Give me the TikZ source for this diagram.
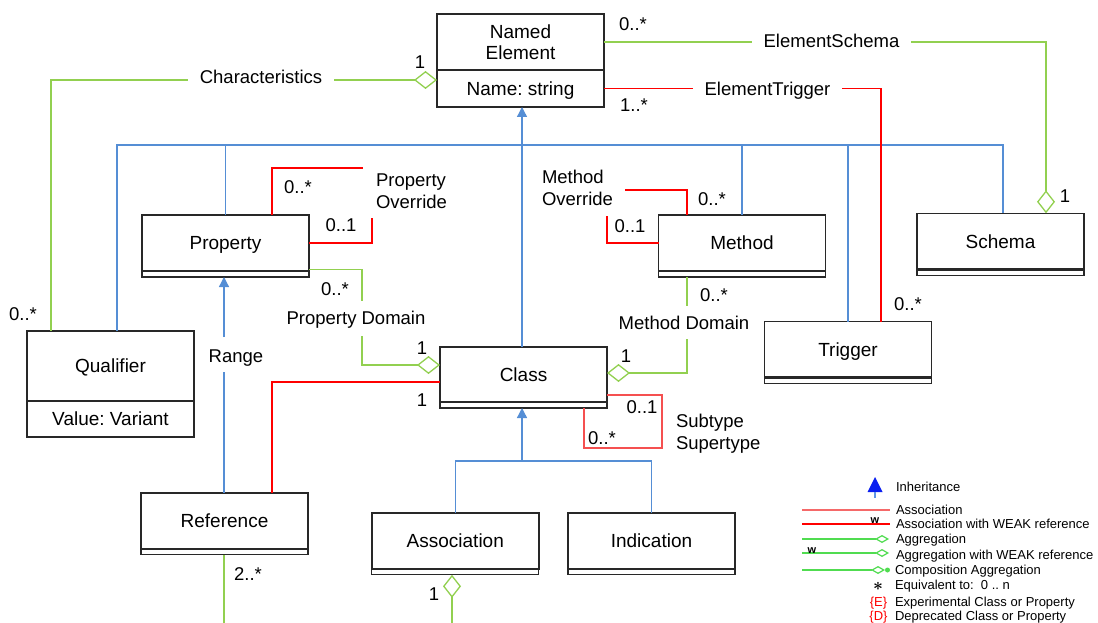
\documentclass[tikz,border=0pt]{standalone}
\usepackage{fontspec}
\setmainfont{Liberation Sans}
\usetikzlibrary{arrows.meta}
\frenchspacing

\definecolor{boxline}{RGB}{40,40,40}
\definecolor{inhblue}{RGB}{85,142,213}
\definecolor{agggreen}{RGB}{146,208,80}
\definecolor{assocred}{RGB}{255,0,0}
\definecolor{loopred}{RGB}{245,80,80}
\definecolor{legred}{RGB}{245,105,105}
\definecolor{leggreen}{RGB}{80,220,80}
\definecolor{legblue}{RGB}{10,30,240}
\definecolor{legstem}{RGB}{95,150,230}

% a class box: name compartment plus a thin empty compartment below
\newcommand{\umlclass}[4][56]{%
  \node[classbox, minimum height=#1pt] (#2) at (#3) {#4};
  \node[stripbox] (#2b) at (#2.south) {};
  \draw[divider] (#2.south west) -- (#2.south east);}

\begin{document}
\begin{tikzpicture}[x=1pt,y=-1pt,
  every node/.style={inner sep=0pt, outer sep=0pt},
  umlbox/.style={draw=boxline, fill=white, line width=1.4pt,
    minimum width=167pt, minimum height=56pt, align=center,
    font=\fontsize{19}{21.5}\selectfont},
  classbox/.style={umlbox, text height=13.6pt, text depth=0pt},
  stripbox/.style={draw=boxline, fill=white, line width=1.2pt,
    minimum width=167pt, minimum height=6pt, anchor=north},
  divider/.style={draw=boxline, line width=2.4pt},
  lab/.style={font=\fontsize{18.5}{22}\selectfont, text height=13.2pt, text depth=0pt},
  mlab/.style={font=\fontsize{18.5}{22}\selectfont, align=left, anchor=west},
  gaplab/.style={lab, fill=white, inner xsep=11.5pt, inner ysep=3pt},
  inh/.style={draw=inhblue, line width=1.3pt},
  inharrow/.style={inh, -{Triangle[length=10pt,width=10pt]}},
  assoc/.style={draw=assocred, line width=1.3pt},
  subloop/.style={draw=loopred, line width=1.3pt},
  agg/.style={draw=agggreen, line width=1.3pt},
  aggarrow/.style={agg, -{Diamond[fill=white,length=23pt,width=18pt]}},
  legtext/.style={font=\fontsize{13}{15}\selectfont, anchor=west, text height=9.3pt, text depth=0pt},
  legline/.style={line width=1.2pt},
  legagg/.style={legline, draw=leggreen, -{Diamond[fill=white,length=14pt,width=8pt]}},
  wmark/.style={font=\bfseries\fontsize{11}{12}\selectfont},
]
\useasboundingbox (0,0) rectangle (1098,623);

% ---------- classes ----------
\node[umlbox] (named) at (520.5,42) {Named\\Element};
\node[classbox, minimum height=37pt, anchor=north] (namedb) at (named.south) {Name: string};
\draw[divider, line width=1.8pt] (named.south west) -- (named.south east);

\node[classbox, minimum height=70pt] (qual) at (110.5,366) {Qualifier};
\node[classbox, minimum height=36pt, anchor=north] (qualb) at (qual.south) {Value: Variant};

\umlclass{prop}{225.5,243}{Property}
\umlclass{meth}{742,243}{Method}
\umlclass{schema}{1000.5,241.3}{Schema}
\umlclass{trigger}{848,349.5}{Trigger}
\umlclass[55]{class}{523.5,374.5}{Class}
\umlclass{ref}{224.5,520.8}{Reference}
\umlclass{assoc}{455.3,540.8}{Association}
\umlclass{indic}{651.5,540.8}{Indication}

% ---------- inheritance ----------
\coordinate (busL) at (117,145);
\coordinate (busR) at (1003,145);
\draw[inh] (qual.north -| busL) -- (busL) -- (busR) -- (schema.north -| busR);
\draw[inh] (prop.north) -- (prop.north |- busL);
\draw[inh] (meth.north) -- (meth.north |- busL);
\draw[inh] (trigger.north) -- (trigger.north |- busL);
\coordinate (nx) at (522,0);
\draw[inharrow] (class.north -| nx) -- (namedb.south -| nx);

\coordinate (subbus) at (522,461);
\draw[inh] (assoc.north) -- (assoc.north |- subbus) -- (indic.north |- subbus) -- (indic.north);
\draw[inharrow] (subbus) -- (classb.south -| subbus);

\coordinate (rangeLo) at (224,372);
\coordinate (rangeHi) at (224,337);
\draw[inh] (ref.north -| rangeLo) -- (rangeLo);
\draw[inharrow] (rangeHi) -- (propb.south -| rangeHi);
\node[lab] (rangelab) at (236,356) {Range};

% ---------- Characteristics ----------
\coordinate (charX) at (51,0);
\coordinate (charY) at (0,80);
\draw[aggarrow] (qual.north -| charX) |- (namedb.west |- charY);
\node[gaplab] (charlab) at (261,76.5) {Characteristics};
\node[lab] (charone) at (420,62) {1};
\node[lab] (charmany) at (23,314) {0..*};

% ---------- ElementSchema ----------
\coordinate (schX) at (1046,0);
\draw[aggarrow] (named.east) -| (schema.north -| schX);
\node[gaplab] (eslab) at (831.5,41) {ElementSchema};
\node[lab] (esmany) at (633,24) {0..*};
\node[lab] (esone) at (1065,196) {1};

% ---------- ElementTrigger ----------
\coordinate (trgX) at (881,0);
\draw[assoc] (namedb.east) -| (trigger.north -| trgX);
\node[gaplab] (etlab) at (767.5,89) {ElementTrigger};
\node[lab] (etmany) at (634,105) {1..*};
\node[lab] (ettrig) at (908,304) {0..*};

% ---------- Property Override ----------
\coordinate (poX) at (272,0);
\coordinate (poA) at (363,168);
\coordinate (poB) at (372,218);
\draw[assoc] (prop.north -| poX) |- (poA);
\draw[assoc] (poB) |- (prop.east);
\node[mlab] (polab) at (376,191) {Property\\Override};
\node[lab] (pomany) at (298,187) {0..*};
\node[lab] (poone) at (341,225) {0..1};

% ---------- Method Override ----------
\coordinate (moX) at (687,0);
\coordinate (moA) at (625,190);
\coordinate (moB) at (607,216);
\draw[assoc] (meth.north -| moX) |- (moA);
\draw[assoc] (moB) |- (meth.west);
\node[mlab] (molab) at (542,188) {Method\\Override};
\node[lab] (momany) at (712,199) {0..*};
\node[lab] (moone) at (630,226) {0..1};

% ---------- Property Domain ----------
\coordinate (pdY) at (0,269.5);
\coordinate (pdA) at (362,301);
\coordinate (pdB) at (362,336);
\coordinate (pdY2) at (0,365);
\draw[agg] (prop.east |- pdY) -| (pdA);
\draw[aggarrow] (pdB) |- (class.west |- pdY2);
\node[lab] (pdlab) at (356,318) {Property Domain};
\node[lab] (pdmany) at (335,289) {0..*};
\node[lab] (pdone) at (422,348) {1};

% ---------- Method Domain ----------
\coordinate (mdA) at (687,306);
\coordinate (mdB) at (687,339);
\coordinate (mdY) at (0,373);
\draw[agg] (methb.south -| mdA) -- (mdA);
\draw[aggarrow] (mdB) |- (class.east |- mdY);
\node[lab] (mdlab) at (684,323) {Method Domain};
\node[lab] (mdmany) at (714,295) {0..*};
\node[lab] (mdone) at (626,356) {1};

% ---------- Class to Reference ----------
\coordinate (crY) at (0,382);
\coordinate (crX) at (272,0);
\draw[assoc] (class.west |- crY) -| (ref.north -| crX);
\node[lab] (crone) at (422,400) {1};

% ---------- Subtype / Supertype ----------
\coordinate (stY) at (0,395);
\coordinate (stA) at (662,448);
\coordinate (stX) at (584,0);
\draw[subloop] (class.east |- stY) -| (stA) -| (classb.south -| stX);
\node[mlab] (stlab) at (676,434) {Subtype\\Supertype};
\node[lab] (stone) at (642,407) {0..1};
\node[lab] (stmany) at (602,438) {0..*};

% ---------- lower edge ----------
\coordinate (bottomY) at (0,623);
\coordinate (refX) at (224,0);
\coordinate (aggX) at (452,0);
\draw[agg] (refb.south -| refX) -- (bottomY -| refX);
\node[lab] (refmany) at (248,574) {2..*};
\draw[aggarrow] (bottomY -| aggX) -- (assocb.south -| aggX);
\node[lab] (assocone) at (434,594) {1};

% ---------- legend ----------
\fill[legblue] (867.5,492) -- (875,477) -- (882.5,492) -- cycle;
\draw[legstem, line width=1.3pt] (875,492) -- (875,498);
\node[legtext] (lginh) at (896,487) {Inheritance};

\draw[legline, draw=legred] (802,510) -- (890,510);
\node[legtext] (lgas) at (896,510) {Association};

\draw[legline, draw=red] (802,524) -- (890,524);
\node[wmark] (lgw1) at (875,520.5) {w};
\node[legtext] (lgasw) at (896,524) {Association with WEAK reference};

\draw[legagg] (802,539) -- (889,539);
\node[legtext] (lgag) at (896,539) {Aggregation};

\draw[legagg] (802,553) -- (889,553);
\node[wmark] (lgw2) at (812,551) {w};
\node[legtext] (lgagw) at (896,555) {Aggregation with WEAK reference};

\draw[legagg] (802,570) -- (885,570);
\fill[leggreen] (887.5,570) circle (2.5);
\node[legtext] (lgcomp) at (895,570) {Composition Aggregation};

\node[font=\fontsize{18}{18}\selectfont\boldmath] (lgstar) at (878,586) {$\ast$};
\node[legtext] (lgeq) at (895,585) {Equivalent to:\ \ 0 .. n};

\node[legtext, anchor=center, text=red] (lge) at (878.5,601.5) {\{E\}};
\node[legtext] (lgexp) at (895,601.5) {Experimental Class or Property};
\node[legtext, anchor=center, text=red] (lgd) at (878.5,615.7) {\{D\}};
\node[legtext] (lgdep) at (895,615.7) {Deprecated Class or Property};
\end{tikzpicture}
\end{document}
